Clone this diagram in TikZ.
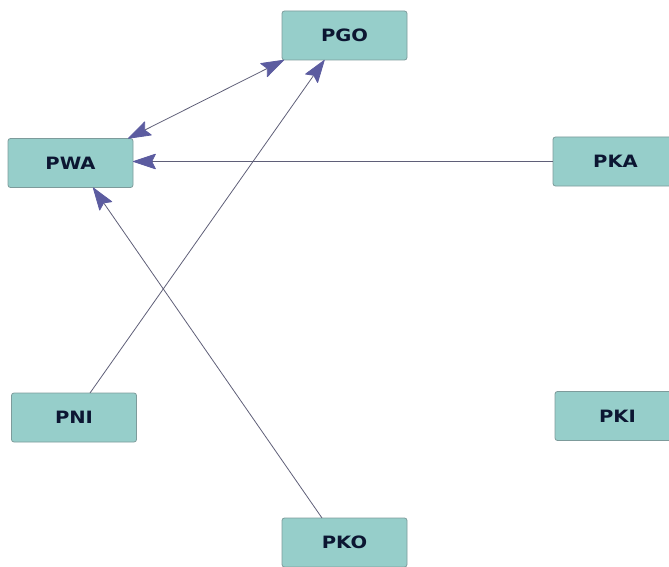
\documentclass[tikz,border=0pt]{standalone}
\usepackage{fontspec}
\newfontfamily\lblfont{DejaVu Sans}[FakeStretch=1.15]
\usetikzlibrary{arrows.meta}
\definecolor{boxfill}{RGB}{150,206,202}
\definecolor{boxline}{RGB}{125,155,155}
\definecolor{txt}{RGB}{12,22,50}
\definecolor{edge}{RGB}{95,95,120}
\definecolor{head}{RGB}{92,92,160}
\tikzset{
  box/.style={draw=boxline, fill=boxfill, line width=0.8pt, rounded corners=2.5pt,
    minimum width=125pt, minimum height=49pt, inner sep=0pt, outer sep=0pt,
    font=\lblfont\bfseries\fontsize{17}{19}\selectfont, text=txt},
  hd/.style={Stealth[length=24pt,width=16pt,inset=4pt,fill=head,color=head,round]},
  link/.style={draw=edge, line width=0.8pt, -{Stealth[length=24pt,width=16pt,inset=4pt,fill=head,color=head,round]}},
  dlink/.style={draw=edge, line width=0.8pt,
    {Stealth[length=24pt,width=16pt,inset=4pt,fill=head,color=head,round]}-{Stealth[length=24pt,width=16pt,inset=4pt,fill=head,color=head,round]}}
}
\begin{document}
\begin{tikzpicture}[x=1pt,y=-1pt]
\useasboundingbox (0,0) rectangle (669,567);
\begin{scope}
\clip (0,0) rectangle (669,567);
\node[box] (pgo) at (344.5,35.5) {PGO};
\node[box] (pwa) at (70.5,163) {PWA};
\node[box] (pka) at (615.5,161.5) {PKA};
\node[box] (pni) at (74,417.5) {PNI};
\node[box] (pki) at (617.5,416) {PKI};
\node[box] (pko) at (344.5,542.5) {PKO};
\end{scope}
\draw[dlink] ([xshift=-5pt]pwa.north east) -- ([xshift=2pt]pgo.south west);
\draw[link] (pka.west) -- (pka.west -| pwa.east);
\draw[link] ([xshift=16pt]pni.north) -- ([xshift=-20pt]pgo.south);
\draw[link] ([xshift=-22.5pt]pko.north) -- ([xshift=22.5pt]pwa.south);
\end{tikzpicture}
\end{document}
